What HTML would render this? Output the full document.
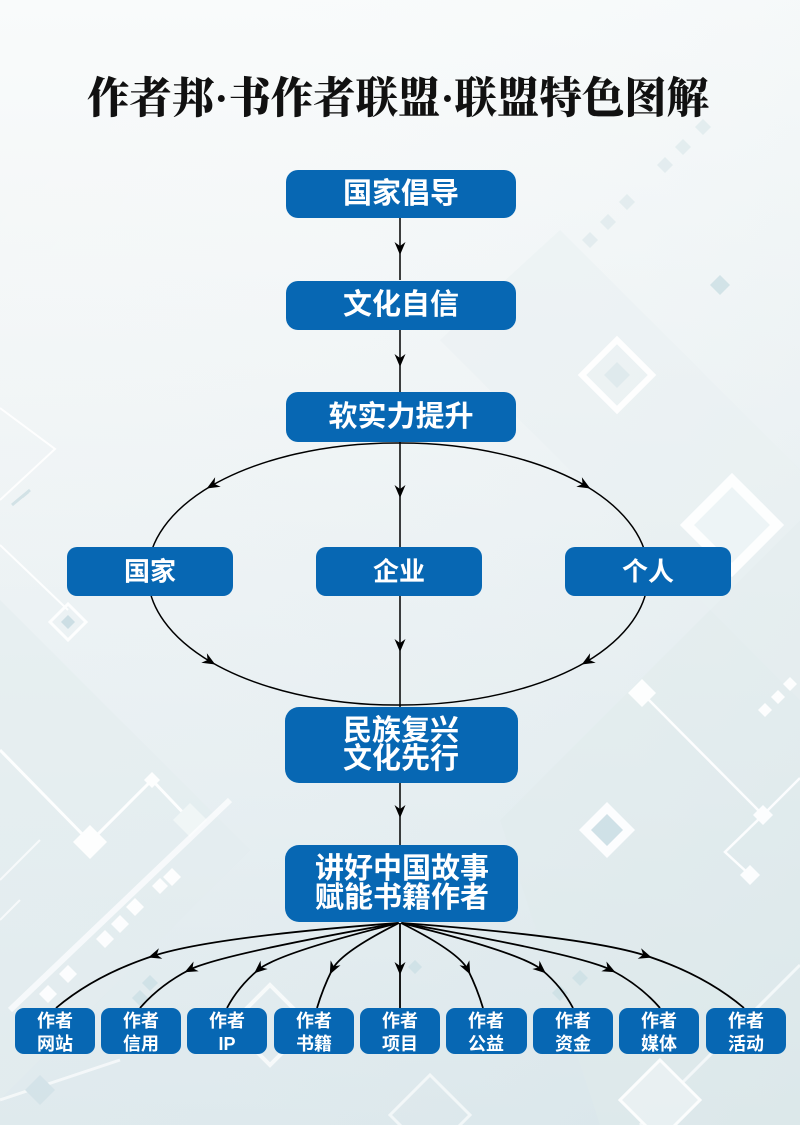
<!DOCTYPE html>
<html><head><meta charset="utf-8"><style>
html,body{margin:0;padding:0;}
body{width:800px;height:1125px;overflow:hidden;background:#eef3f5;}
svg{display:block;}
.bx{fill:#0767b3;}
.t{fill:#fff;font-family:"Liberation Sans","Noto Sans CJK SC",sans-serif;font-weight:700;text-anchor:middle;dominant-baseline:central;}
.ln{fill:none;stroke:#000;stroke-width:1.5;}
.cv{fill:none;stroke:#000;stroke-width:1.8;}
</style></head><body>
<svg width="800" height="1125" viewBox="0 0 800 1125" xmlns="http://www.w3.org/2000/svg">
<defs>
<linearGradient id="bg" x1="0" y1="0" x2="0" y2="1">
<stop offset="0" stop-color="#f9fbfb"/>
<stop offset="0.35" stop-color="#f1f5f6"/>
<stop offset="0.7" stop-color="#e6eef1"/>
<stop offset="1" stop-color="#dbe7eb"/>
</linearGradient>
<linearGradient id="bg2" x1="0" y1="0" x2="1" y2="1">
<stop offset="0" stop-color="#ffffff" stop-opacity="0"/>
<stop offset="1" stop-color="#d6e4e9" stop-opacity="0.5"/>
</linearGradient>
<marker id="ah" viewBox="-14 -6 15 12" markerWidth="15" markerHeight="12" refX="-5" refY="0" orient="auto" markerUnits="userSpaceOnUse">
<path d="M0,0 L-13,-5.5 L-9,0 L-13,5.5 Z" fill="#000"/>
</marker>
</defs>
<rect width="800" height="1125" fill="url(#bg)"/>
<rect width="800" height="1125" fill="url(#bg2)"/>

<!-- background decorations -->
<g opacity="0.9">
<polygon points="560,230 800,470 800,700 440,340" fill="#e9f0f2" opacity="0.6"/>
<polygon points="0,600 250,850 0,1100" fill="#e2ecef" opacity="0.6"/>
<polygon points="500,820 800,520 800,1125 600,1125" fill="#e1ebee" opacity="0.5"/>
<g fill="#e1ebee">
<polygon points="703,119 711,127 703,135 695,127"/>
<polygon points="683,139 691,147 683,155 675,147"/>
<polygon points="665,157 673,165 665,173 657,165"/>
<polygon points="627,194 635,202 627,210 619,202"/>
<polygon points="608,214 616,222 608,230 600,222"/>
<polygon points="590,232 598,240 590,248 582,240"/>
</g>
<polygon points="617,340 652,375 617,410 582,375" fill="none" stroke="#fff" stroke-width="6"/>
<polygon points="617,362 630,375 617,388 604,375" fill="#dde9ec"/>
<polygon points="732,480 777,525 732,570 687,525" fill="#eef4f6" stroke="#fff" stroke-width="10"/>
<polygon points="68,604 86,622 68,640 50,622" fill="none" stroke="#fff" stroke-width="3"/>
<polygon points="68,615 75,622 68,629 61,622" fill="#c9dce2"/>
<path d="M0,408 L55,449 L0,500 M0,545 L68,610" stroke="#fff" stroke-width="2" fill="none"/>
<path d="M12,505 L30,490 M22,497 L28,492" stroke="#cfe0e5" stroke-width="3"/>
<polygon points="642,679 656,693 642,707 628,693" fill="#fff"/>
<path d="M642,693 L763,815 L725,852 L750,875 M763,815 L800,778" stroke="#fff" stroke-width="2.5" fill="none"/>
<polygon points="763,805 773,815 763,825 753,815" fill="#fff"/>
<polygon points="750,865 760,875 750,885 740,875" fill="#fff"/>
<polygon points="607,802 635,830 607,858 579,830" fill="#fff"/>
<polygon points="607,814 623,830 607,846 591,830" fill="#cde0e6"/>
<g fill="#fff">
<polygon points="765,703 772,710 765,717 758,710"/>
<polygon points="778,690 785,697 778,704 771,697"/>
<polygon points="790,677 797,684 790,691 783,684"/>
</g>
<path d="M0,750 L90,842 L152,780 L190,820" stroke="#fff" stroke-width="3" fill="none"/>
<polygon points="90,825 107,842 90,859 73,842" fill="#fff"/>
<polygon points="152,772 160,780 152,788 144,780" fill="#fff"/>
<polygon points="190,803 207,820 190,837 173,820" fill="#f1f6f7"/>
<path d="M10,1010 L230,800" stroke="#fff" stroke-width="6" fill="none" opacity="0.8"/>
<g fill="#fff">
<polygon points="135,898 144,907 135,916 126,907"/>
<polygon points="120,915 129,924 120,933 111,924"/>
<polygon points="105,930 114,939 105,948 96,939"/>
<polygon points="172,868 181,877 172,886 163,877"/>
<polygon points="160,878 168,886 160,894 152,886"/>
<polygon points="68,965 77,974 68,983 59,974"/>
<polygon points="48,985 57,994 48,1003 39,994"/>
</g>
<g fill="#cfe1e6">
<polygon points="150,975 158,983 150,991 142,983"/>
<polygon points="140,990 148,998 140,1006 132,998"/>
<polygon points="415,960 422,967 415,974 408,967"/>
<polygon points="560,985 568,993 560,1001 552,993"/>
<polygon points="580,970 588,978 580,986 572,978"/>
<polygon points="720,275 730,285 720,295 710,285"/>
</g>
<path d="M0,880 L40,840 M0,920 L20,900" stroke="#fff" stroke-width="2" opacity="0.8"/>
<polygon points="270,985 310,1025 270,1065 230,1025" fill="none" stroke="#fff" stroke-width="4" opacity="0.8"/>
<path d="M0,1100 L120,1060 M640,1125 L800,965" stroke="#fff" stroke-width="3" opacity="0.7"/>
<polygon points="660,1060 700,1100 660,1140 620,1100" fill="#eaf1f3" stroke="#fff" stroke-width="3"/>
<polygon points="40,1075 55,1090 40,1105 25,1090" fill="#d3e3e8"/>
<polygon points="430,1075 470,1115 430,1155 390,1115" fill="none" stroke="#fff" stroke-width="3" opacity="0.7"/>
</g>

<!-- title -->
<text x="398" y="113" textLength="622" lengthAdjust="spacingAndGlyphs" text-anchor="middle" font-family="'Liberation Serif','Noto Serif CJK SC',serif" font-weight="900" font-size="43" fill="#111">作者邦·书作者联盟·联盟特色图解</text>

<!-- connectors -->
<path class="ln" d="M400,218 L400,250 L400,280" marker-mid="url(#ah)"/>
<path class="ln" d="M400,330 L400,362 L400,392" marker-mid="url(#ah)"/>
<path class="ln" d="M400,442 L400,493 L400,647 L400,707" marker-mid="url(#ah)"/>
<path class="ln" d="M398,443 A250,131 0 0 0 211,486 A250,131 0 0 0 148,574 A250,131 0 0 0 211,662 A250,131 0 0 0 398,705" marker-mid="url(#ah)"/>
<path class="ln" d="M398,443 A250,131 0 0 1 586,486 A250,131 0 0 1 648,574 A250,131 0 0 1 586,662 A250,131 0 0 1 398,705" marker-mid="url(#ah)"/>
<path class="ln" d="M400,783 L400,813 L400,845" marker-mid="url(#ah)"/>

<path class="cv" d="M398,923 Q211,937 153,956 T56,1008" marker-mid="url(#ah)"/>
<path class="cv" d="M398,923 Q218,955 189,970 T140,1008" marker-mid="url(#ah)"/>
<path class="cv" d="M399,923 Q278,953 258,970 T227,1008" marker-mid="url(#ah)"/>
<path class="cv" d="M399,923 Q341,952 332,970 T317,1008" marker-mid="url(#ah)"/>
<path class="cv" d="M400,923 L400,970 L400,1008" marker-mid="url(#ah)"/>
<path class="cv" d="M401,923 Q459,952 468,970 T483,1008" marker-mid="url(#ah)"/>
<path class="cv" d="M401,923 Q522,953 542,970 T573,1008" marker-mid="url(#ah)"/>
<path class="cv" d="M402,923 Q582,955 611,970 T660,1008" marker-mid="url(#ah)"/>
<path class="cv" d="M402,923 Q589,937 647,956 T744,1008" marker-mid="url(#ah)"/>

<!-- boxes -->
<rect class="bx" x="286" y="170" width="230" height="48" rx="12"/>
<text class="t" x="401" y="194" font-size="29">国家倡导</text>
<rect class="bx" x="286" y="281" width="230" height="49" rx="12"/>
<text class="t" x="401" y="305" font-size="29">文化自信</text>
<rect class="bx" x="286" y="392" width="230" height="50" rx="12"/>
<text class="t" x="401" y="417" font-size="29">软实力提升</text>

<rect class="bx" x="67" y="547" width="166" height="49" rx="10"/>
<text class="t" x="150" y="571.5" font-size="26">国家</text>
<rect class="bx" x="316" y="547" width="166" height="49" rx="10"/>
<text class="t" x="399" y="571.5" font-size="26">企业</text>
<rect class="bx" x="565" y="547" width="166" height="49" rx="10"/>
<text class="t" x="648" y="571.5" font-size="26">个人</text>

<rect class="bx" x="285" y="707" width="233" height="76" rx="14"/>
<text class="t" x="401" y="731" font-size="29">民族复兴</text>
<text class="t" x="401" y="759" font-size="29">文化先行</text>

<rect class="bx" x="285" y="845" width="233" height="77" rx="14"/>
<text class="t" x="402" y="869" font-size="29">讲好中国故事</text>
<text class="t" x="402" y="898" font-size="29">赋能书籍作者</text>

<g>
<rect class="bx" x="15" y="1008" width="80" height="46" rx="9"/>
<text class="t" x="55" y="1021" font-size="18">作者</text><text class="t" x="55" y="1044" font-size="18">网站</text>
<rect class="bx" x="101" y="1008" width="80" height="46" rx="9"/>
<text class="t" x="141" y="1021" font-size="18">作者</text><text class="t" x="141" y="1044" font-size="18">信用</text>
<rect class="bx" x="187" y="1008" width="80" height="46" rx="9"/>
<text class="t" x="227" y="1021" font-size="18">作者</text><text class="t" x="227" y="1044" font-size="18">IP</text>
<rect class="bx" x="274" y="1008" width="80" height="46" rx="9"/>
<text class="t" x="314" y="1021" font-size="18">作者</text><text class="t" x="314" y="1044" font-size="18">书籍</text>
<rect class="bx" x="360" y="1008" width="80" height="46" rx="9"/>
<text class="t" x="400" y="1021" font-size="18">作者</text><text class="t" x="400" y="1044" font-size="18">项目</text>
<rect class="bx" x="446" y="1008" width="81" height="46" rx="9"/>
<text class="t" x="486" y="1021" font-size="18">作者</text><text class="t" x="486" y="1044" font-size="18">公益</text>
<rect class="bx" x="533" y="1008" width="80" height="46" rx="9"/>
<text class="t" x="573" y="1021" font-size="18">作者</text><text class="t" x="573" y="1044" font-size="18">资金</text>
<rect class="bx" x="619" y="1008" width="80" height="46" rx="9"/>
<text class="t" x="659" y="1021" font-size="18">作者</text><text class="t" x="659" y="1044" font-size="18">媒体</text>
<rect class="bx" x="706" y="1008" width="80" height="46" rx="9"/>
<text class="t" x="746" y="1021" font-size="18">作者</text><text class="t" x="746" y="1044" font-size="18">活动</text>
</g>
</svg>
</body></html>
